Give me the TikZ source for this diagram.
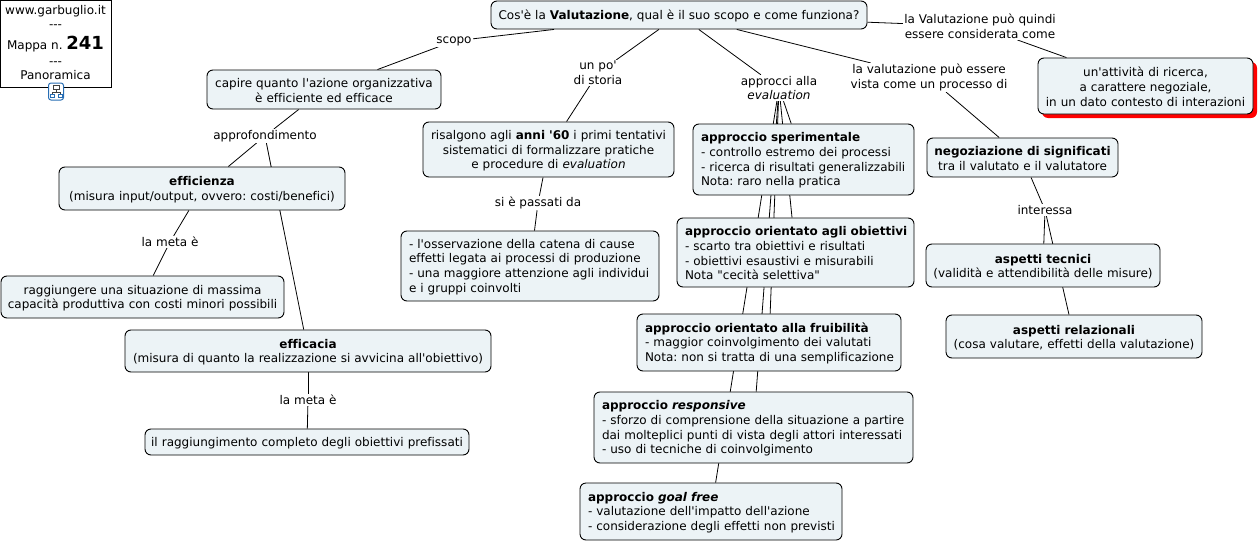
\documentclass[tikz,border=0pt]{standalone}
\usepackage{fontspec}
\setmainfont{DejaVu Sans}[Ligatures={TeXOff,NoCommon}]
\usetikzlibrary{backgrounds}
\definecolor{boxfill}{RGB}{236,243,246}
\definecolor{iconblue}{RGB}{40,110,180}
\tikzset{
        x=1pt, y=-1pt,
        every node/.style={font=\fontsize{12}{14.7}\selectfont\frenchspacing, inner sep=0pt},
        boxbase/.style={draw=black, fill=boxfill, rounded corners=6pt, line width=0.9pt},
        concept/.style={boxbase, align=center, minimum width=#1pt, text width=#1pt-8pt,
            execute at begin node={\rule{0pt}{11.5pt}}},
        leftconcept/.style={boxbase, align=left, minimum width=#1pt, text width=#1pt-8pt,
            execute at begin node={\leftskip=4pt\rule{0pt}{11pt}}},
        linkword/.style={fill=white, align=center, inner xsep=1pt, inner ysep=1pt},
        link/.style={draw=black, line width=0.8pt},
}
\begin{document}
\begin{tikzpicture}
    \useasboundingbox (0,0) rectangle (1260,543);
    % linking phrases
    \node[linkword] (scopo) at (454,41) {scopo};
    \node[linkword] (storia) at (598,73) {un po'\\di storia};
    \node[linkword] (approcci) at (779,88) {approcci alla\\\textit{evaluation}};
    \node[linkword] (processo) at (929,77.5) {la valutazione può essere\\vista come un processo di};
    \node[linkword] (quindi) at (980,26.5) {la Valutazione può quindi\\essere considerata come};
    \node[linkword] (approf) at (265,136) {approfondimento};
    \node[linkword] (metaA) at (170,242) {la meta è};
    \node[linkword] (metaB) at (308,400) {la meta è};
    \node[linkword] (passati) at (538,203) {si è passati da};
    \node[linkword] (interessa) at (1045,210) {interessa};
    % concepts
    \node[draw=black, fill=white, line width=0.9pt, minimum width=111pt, minimum height=87pt, align=center] (sito) at (55.5,43.5)
        {www.garbuglio.it\\---\\[6pt]Mappa n. {\fontsize{18}{18}\selectfont\textbf{241}}\\[1pt]---\\Panoramica\rule[-2pt]{0pt}{1pt}};
    \node[concept=376, minimum height=28pt] (root) at (679,15)
        {Cos'è la \textbf{Valutazione}, qual è il suo scopo e come funziona?};
    \node[concept=234, minimum height=39pt] (capire) at (324,89.5)
        {capire quanto l'azione organizzativa\\è efficiente ed efficace};
    \node[concept=286, minimum height=43pt] (efficienza) at (202,188.5)
        {\textbf{efficienza}\\(misura input/output, ovvero: costi/benefici)};
    \node[concept=283, minimum height=42pt] (raggiungere) at (142.5,297)
        {raggiungere una situazione di massima\\capacità produttiva con costi minori possibili};
    \node[concept=366, minimum height=42pt] (efficacia) at (308,351)
        {\textbf{efficacia}\\(misura di quanto la realizzazione si avvicina all'obiettivo)};
    \node[concept=324, minimum height=26pt] (completo) at (307,442)
        {il raggiungimento completo degli obiettivi prefissati};
    \node[concept=251, minimum height=55pt] (risalgono) at (548.5,149.5)
        {risalgono agli \textbf{anni '60} i primi tentativi\\sistematici di formalizzare pratiche\\e procedure di \textit{evaluation}};
    \node[leftconcept=258, minimum height=70pt] (catena) at (530,266)
        {- l'osservazione della catena di cause\\effetti legata ai processi di produzione\\- una maggiore attenzione agli individui\\e i gruppi coinvolti};
    \node[leftconcept=221, minimum height=71pt] (sperimentale) at (803.5,159.5)
        {\textbf{approccio sperimentale}\\- controllo estremo dei processi\\- ricerca di risultati generalizzabili\\Nota: raro nella pratica};
    \node[leftconcept=237, minimum height=69pt] (obiettivi) at (795.5,252.5)
        {\textbf{approccio orientato agli obiettivi}\\- scarto tra obiettivi e risultati\\- obiettivi esaustivi e misurabili\\Nota "cecità selettiva"};
    \node[leftconcept=264, minimum height=57pt] (fruibilita) at (769,342.5)
        {\textbf{approccio orientato alla fruibilità}\\- maggior coinvolgimento dei valutati\\Nota: non si tratta di una semplificazione};
    \node[leftconcept=319, minimum height=71pt] (responsive) at (753.5,427.5)
        {\textbf{approccio \textit{responsive}}\\- sforzo di comprensione della situazione a partire\\dai molteplici punti di vista degli attori interessati\\- uso di tecniche di coinvolgimento};
    \node[leftconcept=262, minimum height=57pt] (goalfree) at (711,511.5)
        {\textbf{approccio \textit{goal free}}\\- valutazione dell'impatto dell'azione\\- considerazione degli effetti non previsti};
    \node[concept=191, minimum height=39pt] (negoziazione) at (1022.5,157.5)
        {\textbf{negoziazione di significati}\\tra il valutato e il valutatore};
    \node[concept=234, minimum height=43pt] (tecnici) at (1043,265.5)
        {\textbf{aspetti tecnici}\\(validità e attendibilità delle misure)};
    \node[concept=256, minimum height=43pt] (relazionali) at (1074,336.5)
        {\textbf{aspetti relazionali}\\(cosa valutare, effetti della valutazione)};
    \node[concept=215, minimum height=56pt] (attivita) at (1145.5,86)
        {un'attività di ricerca,\\a carattere negoziale,\\in un dato contesto di interazioni};
    % icon under the box
    \node[draw=iconblue, fill=white, rounded corners=2.5pt, line width=1pt, minimum width=15pt, minimum height=17pt] (icona) at (56,91.5) {};
    \begin{scope}[line width=0.9pt, black!75]
        \draw (53,85.5) rectangle (59,89.5) (56,89.5) -- (56,92) (52,92) -- (60,92) (52,92) -- (52,94) (60,92) -- (60,94);
        \draw[iconblue] (50,94) rectangle (54,97.5) (58,94) rectangle (62,97.5);
    \end{scope}
    % connectors, behind the boxes
    \begin{scope}[on background layer]
        \fill[red, rounded corners=6pt] (1042,62) rectangle (1257,118);
        \draw[link] (root) -- (scopo);
        \draw[link] (scopo) -- (capire);
        \draw[link] (root) -- (storia);
        \draw[link] (storia) -- (risalgono);
        \draw[link] (risalgono) -- (passati);
        \draw[link] (passati) -- (catena);
        \draw[link] (root) -- (approcci);
        \draw[link] (approcci) -- (sperimentale);
        \draw[link] (approcci) -- (obiettivi);
        \draw[link] (approcci) -- (fruibilita);
        \draw[link] (approcci) -- (responsive);
        \draw[link] (approcci) -- (goalfree);
        \draw[link] (root) -- (processo);
        \draw[link] (processo) -- (negoziazione);
        \draw[link] (root) -- (quindi);
        \draw[link] (quindi) -- (attivita);
        \draw[link] (capire) -- (approf);
        \draw[link] (approf) -- (efficienza);
        \draw[link] (approf) -- (efficacia);
        \draw[link] (efficienza) -- (metaA);
        \draw[link] (metaA) -- (raggiungere);
        \draw[link] (efficacia) -- (metaB);
        \draw[link] (metaB) -- (completo);
        \draw[link] (negoziazione) -- (interessa);
        \draw[link] (interessa) -- (tecnici);
        \draw[link] (interessa) -- (relazionali);
    \end{scope}
\end{tikzpicture}
\end{document}
